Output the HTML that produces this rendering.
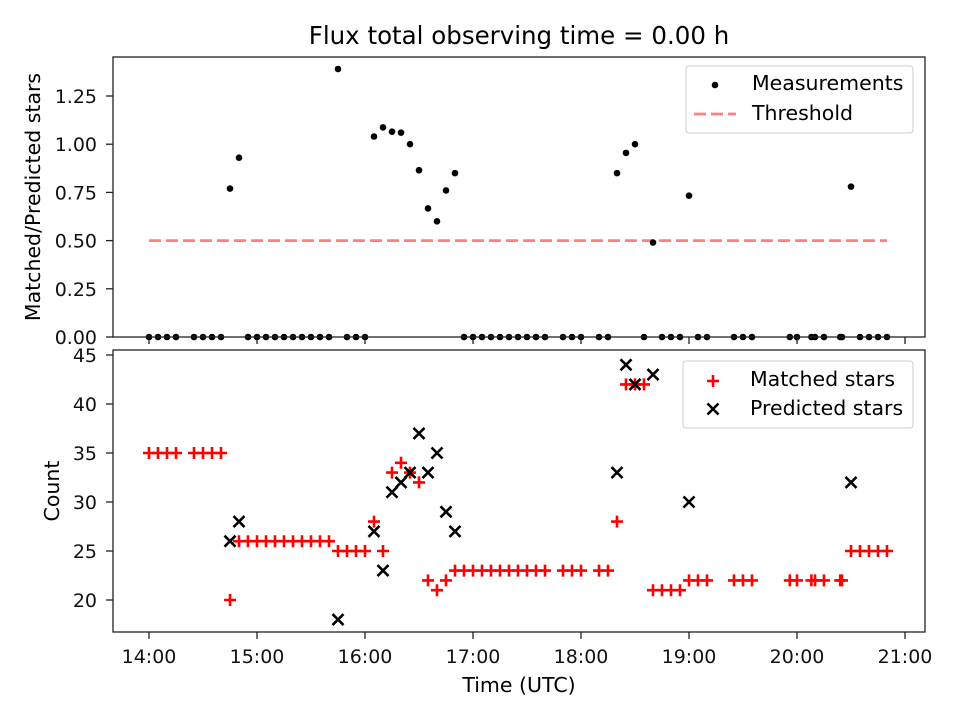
<!DOCTYPE html>
<html><head><meta charset="utf-8"><style>
body{margin:0;background:#fff}
svg{display:block;font-family:"DejaVu Sans","Liberation Sans",sans-serif}
</style></head><body>
<svg id="chart" width="960" height="720" viewBox="0 0 960 720" xmlns="http://www.w3.org/2000/svg">
<rect width="960" height="720" fill="#fff"/>
<text x="519" y="44" text-anchor="middle" font-size="24.5">Flux total observing time = 0.00 h</text>
<g id="topPanel"></g>
<g id="botPanel"></g>
<text transform="translate(40,197) rotate(-90)" text-anchor="middle" font-size="20.5">Matched/Predicted stars</text>
<text transform="translate(59,491) rotate(-90)" text-anchor="middle" font-size="20.5">Count</text>
<text x="519" y="692" text-anchor="middle" font-size="20.5">Time (UTC)</text>
</svg>
<script>
// minutes since 14:00
const times = [0,5,10,15,25,30,35,40,45,50,55,60,65,70,75,80,85,90,95,100,105,110,115,120,125,130,135,140,145,150,155,160,165,170,175,180,185,190,195,200,205,210,215,220,230,235,240,250,255,260,265,270,275,280,285,290,295,300,305,310,325,330,335,356,360,368,370,375,384,385,390,395,400,405,410];
const matched = [35,35,35,35,35,35,35,35,20,26,26,26,26,26,26,26,26,26,26,26,25,25,25,25,28,25,33,34,33,32,22,21,22,23,23,23,23,23,23,23,23,23,23,23,23,23,23,23,23,28,42,42,42,21,21,21,21,22,22,22,22,22,22,22,22,22,22,22,22,22,25,25,25,25,25];
const predicted = [null,null,null,null,null,null,null,null,26,28,null,null,null,null,null,null,null,null,null,null,18,null,null,null,27,23,31,32,33,37,33,35,29,27,null,null,null,null,null,null,null,null,null,null,null,null,null,null,null,33,44,42,null,43,null,null,null,30,null,null,null,null,null,null,null,null,null,null,null,null,32,null,null,null,null];
const ratio = [0,0,0,0,0,0,0,0,0.77,0.93,0,0,0,0,0,0,0,0,0,0,1.39,0,0,0,1.04,1.087,1.065,1.06,1.0,0.865,0.667,0.6,0.76,0.85,0,0,0,0,0,0,0,0,0,0,0,0,0,0,0,0.85,0.955,1.0,0,0.49,0,0,0,0.733,0,0,0,0,0,0,0,0,0,0,0,0,0.78,0,0,0,0];
const threshold = 0.5;
const thresholdRange = [0,410];
const xTickMinutes = [0,60,120,180,240,300,360,420];
const xTickLabels = ["14:00","15:00","16:00","17:00","18:00","19:00","20:00","21:00"];
const topTicks = [0,0.25,0.5,0.75,1.0,1.25];
const botTicks = [20,25,30,35,40,45];

const NS="http://www.w3.org/2000/svg";
function mk(tag,attrs,parent){const e=document.createElementNS(NS,tag);for(const k in attrs)e.setAttribute(k,attrs[k]);parent.appendChild(e);return e;}
const L=113,R=925;
const xs=m=>149+m*1.8;
const TP={top:57,bot:337,min:0,max:1.4523};
const BP={top:350,bot:632,min:16.735,max:45.51};
const ys=(P,v)=>P.bot-(v-P.min)/(P.max-P.min)*(P.bot-P.top);
const topG=document.getElementById('topPanel'),botG=document.getElementById('botPanel');

function axes(g,P,ticks,fmt,showX,nm){
  ticks.forEach(v=>{const y=ys(P,v);
    const t=mk('line',{x1:L-7,x2:L,y1:y,y2:y,stroke:'#222','stroke-width':1.3},g);
    
    
    const tx=mk('text',{x:L-16,y:y+7,'text-anchor':'end','font-size':19,fill:'#111'},g);tx.textContent=fmt(v);
    
    });
  xTickMinutes.forEach((m,i)=>{const x=xs(m);
    const t=mk('line',{x1:x,x2:x,y1:P.bot,y2:P.bot+7,stroke:'#222','stroke-width':1.3},g);
    
    
    if(showX){const tx=mk('text',{x:x,y:P.bot+31,'text-anchor':'middle','font-size':19,fill:'#111'},g);tx.textContent=xTickLabels[i];
      
      }});
}
function frame(g,P,nm){const r=mk('rect',{x:L,y:P.top,width:R-L,height:P.bot-P.top,fill:'none',stroke:'#222','stroke-width':1.3},g);
  
  }

axes(topG,TP,topTicks,v=>v.toFixed(2),false,'top');
const th=mk('line',{x1:xs(thresholdRange[0]),x2:xs(thresholdRange[1]),y1:ys(TP,threshold),y2:ys(TP,threshold),stroke:'#ff8080','stroke-width':2.8,'stroke-dasharray':'12,5'},topG);


times.forEach((m,i)=>{const c=mk('circle',{cx:xs(m),cy:ys(TP,ratio[i]),r:3.3,fill:'#000'},topG);
  
  });
frame(topG,TP,'top');

axes(botG,BP,botTicks,v=>String(v),true,'bottom');
function plus(g,x,y,s){return mk('path',{d:`M${x-s},${y}H${x+s}M${x},${y-s}V${y+s}`,stroke:'#f00','stroke-width':2.6,fill:'none'},g);}
function cross(g,x,y,s){return mk('path',{d:`M${x-s},${y-s}L${x+s},${y+s}M${x-s},${y+s}L${x+s},${y-s}`,stroke:'#000','stroke-width':2.6,fill:'none'},g);}
times.forEach((m,i)=>{const p=plus(botG,xs(m),ys(BP,matched[i]),6);
  
  });
times.forEach((m,i)=>{if(predicted[i]==null)return;const p=cross(botG,xs(m),ys(BP,predicted[i]),5.5);
  
  });
frame(botG,BP,'bottom');

const lg1=mk('g',{},topG);


mk('rect',{x:686,y:66,width:227,height:67,rx:3,fill:'#fff','fill-opacity':0.8,stroke:'#ccc'},lg1);
mk('circle',{cx:715,cy:85,r:3.3,fill:'#000'},lg1);
let t1=mk('text',{x:752,y:90,'font-size':20.5},lg1);t1.textContent='Measurements';
mk('line',{x1:694,x2:736,y1:114,y2:114,stroke:'#ff8080','stroke-width':2.8,'stroke-dasharray':'12,5'},lg1);
let t2=mk('text',{x:752,y:120,'font-size':20.5},lg1);t2.textContent='Threshold';

const lg2=mk('g',{},botG);


mk('rect',{x:683,y:361,width:230,height:67,rx:3,fill:'#fff','fill-opacity':0.8,stroke:'#ccc'},lg2);
plus(lg2,713,381,6);
let t3=mk('text',{x:750,y:386,'font-size':20.5},lg2);t3.textContent='Matched stars';
cross(lg2,713,409,5.5);
let t4=mk('text',{x:750,y:415,'font-size':20.5},lg2);t4.textContent='Predicted stars';
</script>
</body></html>
